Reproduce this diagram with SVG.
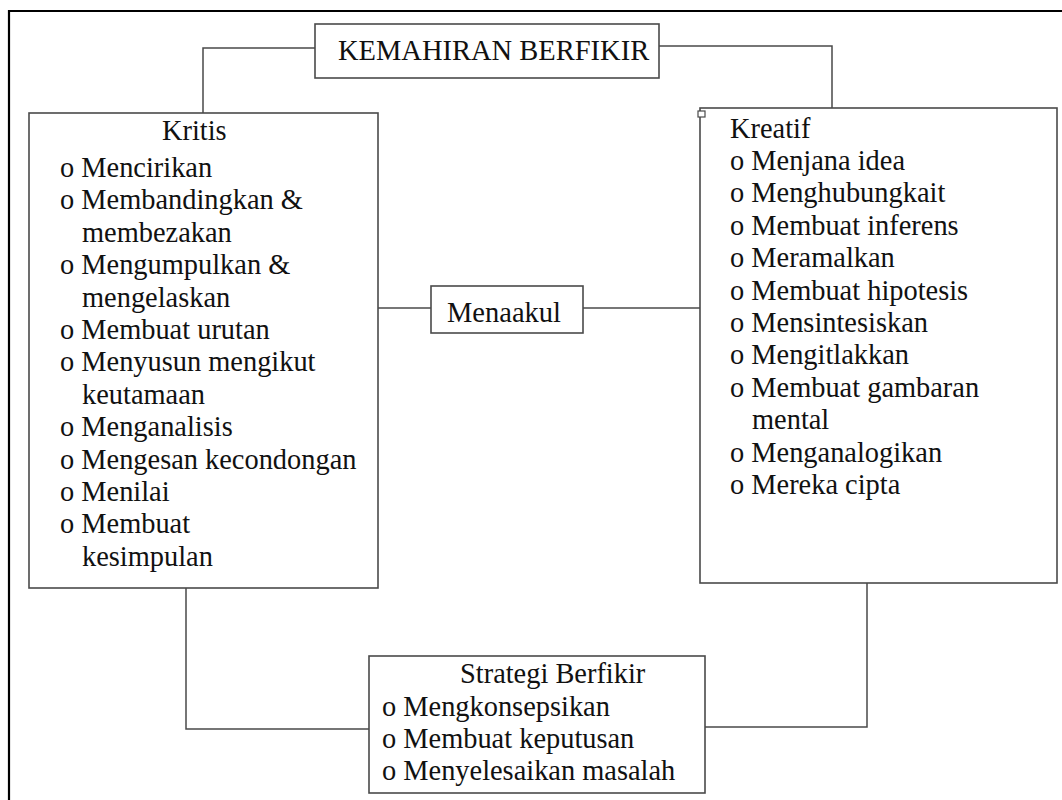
<svg xmlns="http://www.w3.org/2000/svg" width="1062" height="800" viewBox="0 0 1062 800">
<style>
.box{fill:#fff;stroke:#4a4a4a;stroke-width:1.6}
.ln{fill:none;stroke:#4a4a4a;stroke-width:1.5}
text{font-family:"Liberation Serif","Times New Roman",serif;fill:#111}
.t{font-size:28.5px}
.l{font-size:28.4px}
</style>
<rect width="1062" height="800" fill="#fff"/>
<path d="M9,800 V11 H1062" fill="none" stroke="#000" stroke-width="2.2"/>
<g id="connectors">
<path class="ln" d="M315,48 H203 V113"/>
<path class="ln" d="M659,46 H832 V108"/>
<path class="ln" d="M378,308 H431"/>
<path class="ln" d="M583,308 H701"/>
<path class="ln" d="M186,588 V729 H369"/>
<path class="ln" d="M867,583 V727 H705"/>
</g>
<g id="title">
<rect class="box" x="315" y="24" width="344" height="54"/>
<text class="t" x="338" y="60">KEMAHIRAN BERFIKIR</text>
</g>
<g id="kritis">
<rect class="box" x="29" y="113" width="349" height="475"/>
<text class="l" x="162" y="140">Kritis</text>
<text class="l" x="60" y="177">o Mencirikan</text>
<text class="l" x="60" y="209.4">o Membandingkan &amp;</text>
<text class="l" x="82" y="241.8">membezakan</text>
<text class="l" x="60" y="274.2">o Mengumpulkan &amp;</text>
<text class="l" x="82" y="306.6">mengelaskan</text>
<text class="l" x="60" y="339">o Membuat urutan</text>
<text class="l" x="60" y="371.4">o Menyusun mengikut</text>
<text class="l" x="82" y="403.8">keutamaan</text>
<text class="l" x="60" y="436.2">o Menganalisis</text>
<text class="l" x="60" y="468.6">o Mengesan kecondongan</text>
<text class="l" x="60" y="501">o Menilai</text>
<text class="l" x="60" y="533.4">o Membuat</text>
<text class="l" x="82" y="565.8">kesimpulan</text>
</g>
<g id="menaakul">
<rect class="box" x="431" y="286" width="152" height="47"/>
<text class="t" x="447" y="322">Menaakul</text>
</g>
<g id="kreatif">
<rect class="box" x="700" y="108" width="357" height="475"/>
<rect x="698" y="111" width="7" height="6" fill="#fff" stroke="#4a4a4a" stroke-width="1.2"/>
<text class="l" x="730" y="138">Kreatif</text>
<text class="l" x="730" y="170">o Menjana idea</text>
<text class="l" x="730" y="202.4">o Menghubungkait</text>
<text class="l" x="730" y="234.8">o Membuat inferens</text>
<text class="l" x="730" y="267.2">o Meramalkan</text>
<text class="l" x="730" y="299.6">o Membuat hipotesis</text>
<text class="l" x="730" y="332">o Mensintesiskan</text>
<text class="l" x="730" y="364.4">o Mengitlakkan</text>
<text class="l" x="730" y="396.8">o Membuat gambaran</text>
<text class="l" x="752" y="429.2">mental</text>
<text class="l" x="730" y="461.6">o Menganalogikan</text>
<text class="l" x="730" y="494">o Mereka cipta</text>
</g>
<g id="strategi">
<rect class="box" x="369" y="656" width="336" height="137"/>
<text class="l" x="460" y="683">Strategi Berfikir</text>
<text class="l" x="382" y="716">o Mengkonsepsikan</text>
<text class="l" x="382" y="748">o Membuat keputusan</text>
<text class="l" x="382" y="780">o Menyelesaikan masalah</text>
</g>
</svg>
